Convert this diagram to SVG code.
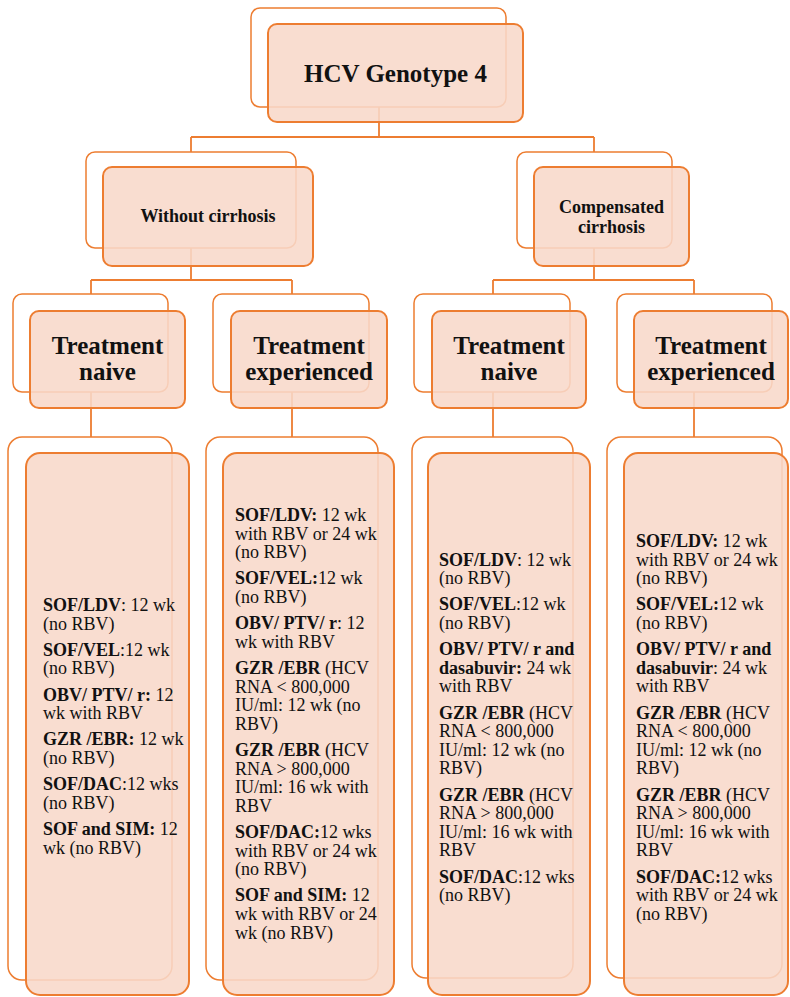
<svg xmlns="http://www.w3.org/2000/svg" width="790" height="997" viewBox="0 0 790 997">
<style>
.back{fill:#fff;stroke:#ed7d31;stroke-width:1.5}
.front{fill:#f8d8c9;fill-opacity:0.88;stroke:#ed7d31;stroke-width:2}
.conn{fill:none;stroke:#ed7d31;stroke-width:1.8}
.h{font-family:"Liberation Serif","Times New Roman",serif;font-weight:bold;text-anchor:middle;fill:#111}
.t{font-family:"Liberation Serif","Times New Roman",serif;font-size:18px;fill:#111}
.b{font-weight:bold}
</style>
<rect width="790" height="997" fill="#fff"/>
<g id="connectors">
<path class="conn" d="M379,107V137M191,137H594M191,137V152M594,137V152"/>
<path class="conn" d="M191,248V280M91,280H292M91,280V294M292,280V294"/>
<path class="conn" d="M594,248V280M493,280H694M493,280V294M694,280V294"/>
<path class="conn" d="M91,392V437M292,392V437M493,392V437M694,392V437"/>
</g>
<g id="root">
<rect class="back" x="251" y="8" width="255" height="99" rx="9"/>
<rect class="front" x="268" y="24" width="255" height="98" rx="9"/>
<text class="h" x="395.5" y="82" font-size="25">HCV Genotype 4</text>
</g>
<g id="without-cirrhosis">
<rect class="back" x="86" y="152" width="210" height="96" rx="9"/>
<rect class="front" x="103" y="167" width="210" height="99" rx="9"/>
<text class="h" x="208" y="222" font-size="18">Without cirrhosis</text>
</g>
<g id="compensated-cirrhosis">
<rect class="back" x="517" y="152" width="155" height="96" rx="9"/>
<rect class="front" x="534" y="167" width="155" height="99" rx="9"/>
<text class="h" x="611.5" y="213" font-size="18">Compensated</text>
<text class="h" x="611.5" y="233" font-size="18">cirrhosis</text>
</g>
<g id="naive-1">
<rect class="back" x="13" y="294" width="155" height="98" rx="9"/>
<rect class="front" x="30" y="311" width="155" height="97" rx="9"/>
<text class="h" x="107.5" y="354" font-size="25">Treatment</text>
<text class="h" x="107.5" y="380" font-size="25">naive</text>
</g>
<g id="experienced-1">
<rect class="back" x="213" y="294" width="156" height="98" rx="9"/>
<rect class="front" x="231" y="311" width="156" height="97" rx="9"/>
<text class="h" x="309" y="354" font-size="25">Treatment</text>
<text class="h" x="309" y="380" font-size="25">experienced</text>
</g>
<g id="naive-2">
<rect class="back" x="414" y="294" width="156" height="98" rx="9"/>
<rect class="front" x="432" y="311" width="154" height="97" rx="9"/>
<text class="h" x="509" y="354" font-size="25">Treatment</text>
<text class="h" x="509" y="380" font-size="25">naive</text>
</g>
<g id="experienced-2">
<rect class="back" x="617" y="294" width="155" height="98" rx="9"/>
<rect class="front" x="634" y="311" width="154" height="97" rx="9"/>
<text class="h" x="711" y="354" font-size="25">Treatment</text>
<text class="h" x="711" y="380" font-size="25">experienced</text>
</g>
<g id="regimens-naive-1">
<rect class="back" x="8" y="437" width="164" height="543" rx="14"/>
<rect class="front" x="26" y="453" width="163" height="542" rx="14"/>
<text class="t" x="43" y="611"><tspan class="b">SOF/LDV</tspan>: 12 wk</text>
<text class="t" x="43" y="629.6">(no RBV)</text>
<text class="t" x="43" y="655.8"><tspan class="b">SOF/VEL</tspan>:12 wk</text>
<text class="t" x="43" y="674.4">(no RBV)</text>
<text class="t" x="43" y="700.6"><tspan class="b">OBV/ PTV/ r:</tspan> 12</text>
<text class="t" x="43" y="719.2">wk with RBV</text>
<text class="t" x="43" y="745.4"><tspan class="b">GZR /EBR:</tspan> 12 wk</text>
<text class="t" x="43" y="764">(no RBV)</text>
<text class="t" x="43" y="790.2"><tspan class="b">SOF/DAC</tspan>:12 wks</text>
<text class="t" x="43" y="808.8">(no RBV)</text>
<text class="t" x="43" y="835"><tspan class="b">SOF and SIM:</tspan> 12</text>
<text class="t" x="43" y="853.6">wk (no RBV)</text>
</g>
<g id="regimens-experienced-1">
<rect class="back" x="206" y="437" width="172" height="543" rx="14"/>
<rect class="front" x="223" y="453" width="171" height="542" rx="14"/>
<text class="t" x="235" y="521"><tspan class="b">SOF/LDV:</tspan> 12 wk</text>
<text class="t" x="235" y="539.6">with RBV or 24 wk</text>
<text class="t" x="235" y="558.2">(no RBV)</text>
<text class="t" x="235" y="584.4"><tspan class="b">SOF/VEL:</tspan>12 wk</text>
<text class="t" x="235" y="603">(no RBV)</text>
<text class="t" x="235" y="629.2"><tspan class="b">OBV/ PTV/ r</tspan>: 12</text>
<text class="t" x="235" y="647.8">wk with RBV</text>
<text class="t" x="235" y="674"><tspan class="b">GZR /EBR</tspan> (HCV</text>
<text class="t" x="235" y="692.6">RNA &lt; 800,000</text>
<text class="t" x="235" y="711.2">IU/ml: 12 wk (no</text>
<text class="t" x="235" y="729.8">RBV)</text>
<text class="t" x="235" y="756"><tspan class="b">GZR /EBR</tspan> (HCV</text>
<text class="t" x="235" y="774.6">RNA &gt; 800,000</text>
<text class="t" x="235" y="793.2">IU/ml: 16 wk with</text>
<text class="t" x="235" y="811.8">RBV</text>
<text class="t" x="235" y="838"><tspan class="b">SOF/DAC:</tspan>12 wks</text>
<text class="t" x="235" y="856.6">with RBV or 24 wk</text>
<text class="t" x="235" y="875.2">(no RBV)</text>
<text class="t" x="235" y="901.4"><tspan class="b">SOF and SIM:</tspan> 12</text>
<text class="t" x="235" y="920">wk with RBV or 24</text>
<text class="t" x="235" y="938.6">wk (no RBV)</text>
</g>
<g id="regimens-naive-2">
<rect class="back" x="412" y="437" width="161" height="541" rx="14"/>
<rect class="front" x="428" y="453" width="162" height="542" rx="14"/>
<text class="t" x="439" y="565.6"><tspan class="b">SOF/LDV</tspan>: 12 wk</text>
<text class="t" x="439" y="584.2">(no RBV)</text>
<text class="t" x="439" y="610.4"><tspan class="b">SOF/VEL</tspan>:12 wk</text>
<text class="t" x="439" y="629">(no RBV)</text>
<text class="t" x="439" y="655.2"><tspan class="b">OBV/ PTV/ r and</tspan></text>
<text class="t" x="439" y="673.8"><tspan class="b">dasabuvir:</tspan> 24 wk</text>
<text class="t" x="439" y="692.4">with RBV</text>
<text class="t" x="439" y="718.6"><tspan class="b">GZR /EBR</tspan> (HCV</text>
<text class="t" x="439" y="737.2">RNA &lt; 800,000</text>
<text class="t" x="439" y="755.8">IU/ml: 12 wk (no</text>
<text class="t" x="439" y="774.4">RBV)</text>
<text class="t" x="439" y="800.6"><tspan class="b">GZR /EBR</tspan> (HCV</text>
<text class="t" x="439" y="819.2">RNA &gt; 800,000</text>
<text class="t" x="439" y="837.8">IU/ml: 16 wk with</text>
<text class="t" x="439" y="856.4">RBV</text>
<text class="t" x="439" y="882.6"><tspan class="b">SOF/DAC</tspan>:12 wks</text>
<text class="t" x="439" y="901.2">(no RBV)</text>
</g>
<g id="regimens-experienced-2">
<rect class="back" x="607" y="437" width="175" height="541" rx="14"/>
<rect class="front" x="624" y="453" width="164" height="542" rx="14"/>
<text class="t" x="636" y="547"><tspan class="b">SOF/LDV:</tspan> 12 wk</text>
<text class="t" x="636" y="565.6">with RBV or 24 wk</text>
<text class="t" x="636" y="584.2">(no RBV)</text>
<text class="t" x="636" y="610.4"><tspan class="b">SOF/VEL:</tspan>12 wk</text>
<text class="t" x="636" y="629">(no RBV)</text>
<text class="t" x="636" y="655.2"><tspan class="b">OBV/ PTV/ r and</tspan></text>
<text class="t" x="636" y="673.8"><tspan class="b">dasabuvir</tspan>: 24 wk</text>
<text class="t" x="636" y="692.4">with RBV</text>
<text class="t" x="636" y="718.6"><tspan class="b">GZR /EBR</tspan> (HCV</text>
<text class="t" x="636" y="737.2">RNA &lt; 800,000</text>
<text class="t" x="636" y="755.8">IU/ml: 12 wk (no</text>
<text class="t" x="636" y="774.4">RBV)</text>
<text class="t" x="636" y="800.6"><tspan class="b">GZR /EBR</tspan> (HCV</text>
<text class="t" x="636" y="819.2">RNA &gt; 800,000</text>
<text class="t" x="636" y="837.8">IU/ml: 16 wk with</text>
<text class="t" x="636" y="856.4">RBV</text>
<text class="t" x="636" y="882.6"><tspan class="b">SOF/DAC:</tspan>12 wks</text>
<text class="t" x="636" y="901.2">with RBV or 24 wk</text>
<text class="t" x="636" y="919.8">(no RBV)</text>
</g>
</svg>
